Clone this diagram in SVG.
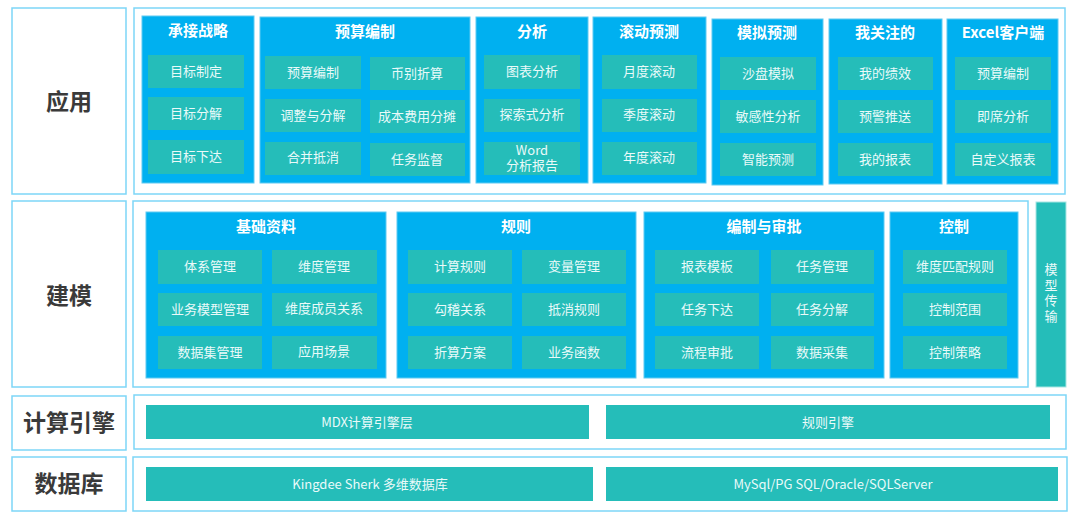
<svg xmlns="http://www.w3.org/2000/svg" width="1080" height="517" viewBox="0 0 1080 517">
<style>
text{font-family:"Noto Sans CJK SC","Microsoft YaHei",sans-serif;text-anchor:middle;dominant-baseline:central}
.frame{fill:#fff;stroke:#7dd6f7;stroke-width:1.5}
.lbl{font-size:23px;font-weight:bold;fill:#3a3a3a}
.grp{fill:#00b0f0;stroke:#5fcaf2;stroke-width:1}
.ttl{font-size:15px;font-weight:bold;fill:#fff}
.it{fill:#25bdb9}
.itx{font-size:13px;fill:#eafaf9}
.vt{font-size:13px;fill:#eafaf9;writing-mode:vertical-rl;letter-spacing:2.7px}
</style>
<rect width="1080" height="517" fill="#fff"/>

<g id="layer-app">
<rect class="frame" x="12" y="8" width="114" height="186"/>
<text class="lbl" x="69" y="100">应用</text>
<rect class="frame" x="134" y="8" width="931" height="186"/>
</g>
<g id="layer-model">
<rect class="frame" x="12" y="201" width="114" height="186"/>
<text class="lbl" x="69" y="294">建模</text>
<rect class="frame" x="133" y="201" width="895" height="186"/>
</g>
<g id="layer-engine">
<rect class="frame" x="12" y="396" width="114" height="54"/>
<text class="lbl" x="69" y="421">计算引擎</text>
<rect class="frame" x="134" y="395" width="932" height="54"/>
</g>
<g id="layer-db">
<rect class="frame" x="12" y="457" width="114" height="54"/>
<text class="lbl" x="69" y="482">数据库</text>
<rect class="frame" x="133" y="457" width="934" height="54"/>
</g>

<g id="g-strategy">
<rect class="grp" x="142" y="16" width="112" height="167"/>
<text class="ttl" x="198" y="29">承接战略</text>
<rect class="it" x="148" y="55" width="96" height="33"/><text class="itx" x="196" y="70">目标制定</text>
<rect class="it" x="148" y="97" width="96" height="33"/><text class="itx" x="196" y="112">目标分解</text>
<rect class="it" x="148" y="140" width="96" height="34"/><text class="itx" x="196" y="155">目标下达</text>
</g>
<g id="g-budget">
<rect class="grp" x="260" y="17" width="210" height="166"/>
<text class="ttl" x="365" y="30">预算编制</text>
<rect class="it" x="265" y="56" width="96" height="33"/><text class="itx" x="313" y="71">预算编制</text>
<rect class="it" x="370" y="57" width="95" height="33"/><text class="itx" x="417" y="72">币别折算</text>
<rect class="it" x="265" y="99" width="96" height="33"/><text class="itx" x="313" y="114">调整与分解</text>
<rect class="it" x="370" y="100" width="95" height="33"/><text class="itx" x="417" y="115">成本费用分摊</text>
<rect class="it" x="265" y="142" width="96" height="33"/><text class="itx" x="313" y="156">合并抵消</text>
<rect class="it" x="370" y="143" width="95" height="33"/><text class="itx" x="417" y="158">任务监督</text>
</g>
<g id="g-analysis">
<rect class="grp" x="476" y="17" width="112" height="166"/>
<text class="ttl" x="532" y="30">分析</text>
<rect class="it" x="484" y="55" width="96" height="34"/><text class="itx" x="532" y="70">图表分析</text>
<rect class="it" x="484" y="99" width="96" height="33"/><text class="itx" x="532" y="113">探索式分析</text>
<rect class="it" x="484" y="142" width="96" height="33"/><text class="itx" x="532" y="149">Word<tspan x="532" dy="15">分析报告</tspan></text>
</g>
<g id="g-rolling">
<rect class="grp" x="593" y="17" width="113" height="166"/>
<text class="ttl" x="649" y="30">滚动预测</text>
<rect class="it" x="602" y="55" width="95" height="34"/><text class="itx" x="649" y="70">月度滚动</text>
<rect class="it" x="602" y="99" width="95" height="33"/><text class="itx" x="649" y="113">季度滚动</text>
<rect class="it" x="602" y="142" width="95" height="33"/><text class="itx" x="649" y="156">年度滚动</text>
</g>
<g id="g-simulate">
<rect class="grp" x="712" y="19" width="111" height="166"/>
<text class="ttl" x="767" y="31">模拟预测</text>
<rect class="it" x="720" y="57" width="96" height="33"/><text class="itx" x="768" y="72">沙盘模拟</text>
<rect class="it" x="720" y="100" width="96" height="33"/><text class="itx" x="768" y="115">敏感性分析</text>
<rect class="it" x="720" y="143" width="96" height="33"/><text class="itx" x="768" y="158">智能预测</text>
</g>
<g id="g-focus">
<rect class="grp" x="829" y="19" width="113" height="165"/>
<text class="ttl" x="885" y="31">我关注的</text>
<rect class="it" x="838" y="57" width="95" height="33"/><text class="itx" x="885" y="72">我的绩效</text>
<rect class="it" x="838" y="100" width="95" height="33"/><text class="itx" x="885" y="115">预警推送</text>
<rect class="it" x="838" y="143" width="95" height="33"/><text class="itx" x="885" y="158">我的报表</text>
</g>
<g id="g-excel">
<rect class="grp" x="947" y="19" width="111" height="165"/>
<text class="ttl" x="1003" y="31">Excel客户端</text>
<rect class="it" x="955" y="57" width="96" height="33"/><text class="itx" x="1003" y="72">预算编制</text>
<rect class="it" x="955" y="100" width="96" height="33"/><text class="itx" x="1003" y="115">即席分析</text>
<rect class="it" x="955" y="143" width="96" height="33"/><text class="itx" x="1003" y="158">自定义报表</text>
</g>

<g id="g-basic">
<rect class="grp" x="146" y="212" width="240" height="166"/>
<text class="ttl" x="266" y="225">基础资料</text>
<rect class="it" x="158" y="250" width="104" height="34"/><text class="itx" x="210" y="265">体系管理</text>
<rect class="it" x="272" y="250" width="105" height="34"/><text class="itx" x="324" y="265">维度管理</text>
<rect class="it" x="158" y="293" width="104" height="33"/><text class="itx" x="210" y="308">业务模型管理</text>
<rect class="it" x="272" y="293" width="105" height="33"/><text class="itx" x="324" y="307">维度成员关系</text>
<rect class="it" x="158" y="336" width="104" height="33"/><text class="itx" x="210" y="351">数据集管理</text>
<rect class="it" x="272" y="336" width="105" height="33"/><text class="itx" x="324" y="350">应用场景</text>
</g>
<g id="g-rules">
<rect class="grp" x="397" y="212" width="239" height="166"/>
<text class="ttl" x="516" y="225">规则</text>
<rect class="it" x="408" y="250" width="104" height="34"/><text class="itx" x="460" y="265">计算规则</text>
<rect class="it" x="522" y="250" width="104" height="34"/><text class="itx" x="574" y="265">变量管理</text>
<rect class="it" x="408" y="293" width="104" height="33"/><text class="itx" x="460" y="308">勾稽关系</text>
<rect class="it" x="522" y="293" width="104" height="33"/><text class="itx" x="574" y="308">抵消规则</text>
<rect class="it" x="408" y="336" width="104" height="33"/><text class="itx" x="460" y="351">折算方案</text>
<rect class="it" x="522" y="336" width="104" height="33"/><text class="itx" x="574" y="351">业务函数</text>
</g>
<g id="g-approve">
<rect class="grp" x="644" y="212" width="240" height="166"/>
<text class="ttl" x="764" y="225">编制与审批</text>
<rect class="it" x="655" y="250" width="104" height="34"/><text class="itx" x="707" y="265">报表模板</text>
<rect class="it" x="771" y="250" width="103" height="34"/><text class="itx" x="822" y="265">任务管理</text>
<rect class="it" x="655" y="293" width="104" height="33"/><text class="itx" x="707" y="308">任务下达</text>
<rect class="it" x="771" y="293" width="103" height="33"/><text class="itx" x="822" y="308">任务分解</text>
<rect class="it" x="655" y="336" width="104" height="33"/><text class="itx" x="707" y="351">流程审批</text>
<rect class="it" x="771" y="336" width="103" height="33"/><text class="itx" x="822" y="351">数据采集</text>
</g>
<g id="g-control">
<rect class="grp" x="890" y="212" width="128" height="166"/>
<text class="ttl" x="954" y="225">控制</text>
<rect class="it" x="903" y="250" width="104" height="34"/><text class="itx" x="955" y="265">维度匹配规则</text>
<rect class="it" x="903" y="293" width="104" height="33"/><text class="itx" x="955" y="308">控制范围</text>
<rect class="it" x="903" y="336" width="104" height="33"/><text class="itx" x="955" y="351">控制策略</text>
</g>
<g id="n-transfer">
<rect class="it" x="1036" y="202" width="30" height="185" stroke="#a8e6e3" stroke-width="1"/>
<text class="vt" x="1051" y="294">模型传输</text>
</g>

<g id="n-mdx">
<rect class="it" x="146" y="405" width="443" height="34"/>
<text class="itx" x="367" y="421">MDX计算引擎层</text>
</g>
<g id="n-rule-engine">
<rect class="it" x="606" y="405" width="444" height="34"/>
<text class="itx" x="828" y="421">规则引擎</text>
</g>
<g id="n-kingdee">
<rect class="it" x="146" y="467" width="447" height="34"/>
<text class="itx" x="370" y="483">Kingdee Sherk 多维数据库</text>
</g>
<g id="n-sql">
<rect class="it" x="606" y="467" width="452" height="34"/>
<text class="itx" x="833" y="483">MySql/PG SQL/Oracle/SQLServer</text>
</g>

<g id="connectors"></g>
</svg>
